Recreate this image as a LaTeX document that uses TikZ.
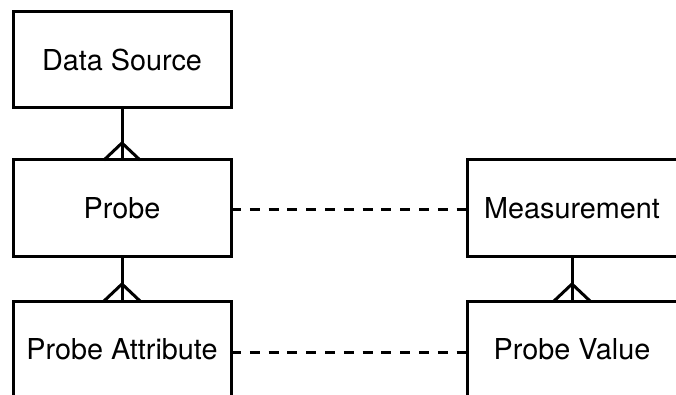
\documentclass[tikz,border=0pt]{standalone}
\usepackage{fontspec}
\setmainfont{TeX Gyre Heros}
\begin{document}
\begin{tikzpicture}[x=1pt,y=1pt,
  entity/.style={draw, line width=3pt, inner sep=0pt, outer sep=0pt,
    minimum height=96pt, font=\fontsize{28.8}{32}\selectfont},
  leftbox/.style={entity, minimum width=218pt},
  rightbox/.style={entity, minimum width=210pt},
  rel/.style={line width=3pt},
  optrel/.style={line width=3pt, dash pattern=on 10pt off 8.8pt}]
\clip (0,0) rectangle (676,-395);
\node[leftbox] (ds) at (122,-60) {Data Source};
\node[leftbox] (probe) at (122,-208) {Probe};
\node[leftbox] (pa) at (122,-349) {Probe Attribute};
\node[rightbox] (meas) at (572,-208) {Measurement};
\node[rightbox] (pv) at (572,-349) {Probe Value};
% one-to-many connectors with crow's feet
\draw[rel] (ds.south) -- (probe.north);
\draw[rel] ([xshift=-18pt]probe.north) -- ([yshift=17pt]probe.north) -- ([xshift=18pt]probe.north);
\draw[rel] (probe.south) -- (pa.north);
\draw[rel] ([xshift=-18pt]pa.north) -- ([yshift=17pt]pa.north) -- ([xshift=18pt]pa.north);
\draw[rel] (meas.south) -- (pv.north);
\draw[rel] ([xshift=-18pt]pv.north) -- ([yshift=17pt]pv.north) -- ([xshift=18pt]pv.north);
% dashed connectors
\draw[optrel] ([yshift=-1pt]probe.east) -- ([yshift=-1pt]meas.west);
\draw[optrel] ([yshift=-3pt]pa.east) -- ([yshift=-3pt]pv.west);
\end{tikzpicture}
\end{document}
